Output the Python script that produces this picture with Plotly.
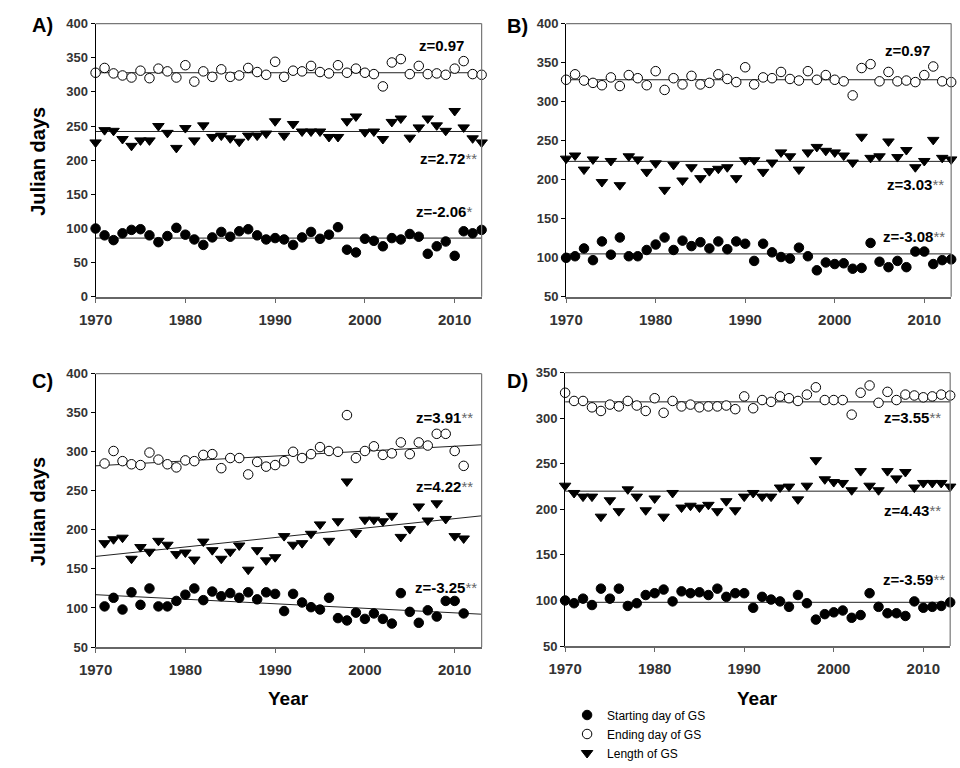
import plotly.graph_objects as go

W, H = 960, 768
FONT = "Liberation Sans, Arial, sans-serif"

years = list(range(1970, 2014))
years_c = list(range(1971, 2012))

# Panel A
a_end = [328,335,327,324,321,331,320,334,330,321,339,315,330,322,333,322,324,335,329,325,
         344,322,331,330,338,329,327,339,328,334,328,326,308,343,348,326,338,326,327,325,
         334,345,326,325]
a_len = [226,244,243,231,221,229,229,250,240,218,247,229,251,234,236,232,227,236,236,239,
         257,236,253,242,242,242,234,234,257,264,241,242,231,256,261,233,248,261,251,243,
         272,248,232,226]
a_start = [100,90,83,93,98,99,90,80,89,101,91,84,76,87,95,88,96,99,90,84,
           86,84,76,87,95,85,91,102,69,65,85,82,74,86,84,92,88,63,74,81,
           60,96,93,98]
a_trend_end = [328, 328]
a_trend_len = [242, 242]
a_trend_start = [86, 86]

# Panel B
b_end = a_end
b_len = [227,231,213,226,197,224,193,230,226,210,221,187,219,199,216,202,211,214,216,202,
         225,225,210,222,235,230,213,235,242,237,235,231,222,255,228,230,249,229,238,216,
         224,251,228,226]
b_start = [100,102,112,97,121,104,126,102,102,110,117,126,110,122,115,120,112,121,111,121,
           118,96,118,107,101,99,113,102,84,94,92,93,86,87,119,95,88,96,88,108,
           108,92,97,98]
b_trend_end = [328, 328]
b_trend_len = [223.5, 223.5]
b_trend_start = [105, 105]

# Panel C (1971-2011)
c_end = [285,301,288,284,283,299,290,284,280,289,288,296,297,279,292,292,271,287,281,283,
         288,300,292,297,306,301,300,347,292,301,307,296,298,312,297,312,308,323,323,301,282]
c_len = [183,188,190,163,178,172,186,181,169,171,162,185,174,163,172,180,149,174,161,165,
         192,181,183,195,207,186,211,262,196,213,213,211,218,191,201,230,212,234,214,192,189]
c_start = [102,113,98,120,104,125,102,102,109,117,125,110,121,115,119,113,120,111,120,118,
           96,118,107,101,98,113,87,84,94,86,93,86,80,119,95,81,97,89,109,109,93]
c_trend_end = [282, 309]
c_trend_len = [166, 218]
c_trend_start = [117, 92]

# Panel D
d_end = [328,319,319,312,308,315,313,319,314,308,322,306,319,313,315,312,313,313,314,310,
         324,311,320,318,324,322,319,326,334,320,320,320,304,328,336,317,329,320,326,325,
         323,324,326,325]
d_len = [226,218,214,214,192,210,198,222,214,199,212,192,218,202,204,202,205,198,209,199,
         214,218,214,214,224,225,211,226,254,233,230,229,221,242,226,221,242,234,241,224,
         229,229,229,225]
d_start = [100,97,102,95,113,102,113,94,97,106,108,112,99,110,108,109,106,113,104,108,
           108,92,104,101,99,93,106,97,79,85,87,89,81,84,108,93,86,86,83,99,
           92,93,94,98]
d_trend_end = [318, 318]
d_trend_len = [220, 220]
d_trend_start = [98, 98]

trend_x = [1970, 2013]

panels = [
    dict(name="A)", x=years, end=a_end, length=a_len, start=a_start,
         t_end=a_trend_end, t_len=a_trend_len, t_start=a_trend_start,
         yr=[0, 400], ytv=list(range(0, 401, 50)),
         dom_x=(80, 473), dom_y=(17, 298),
         z=[("z=0.97", "", 457, 40), ("z=2.72", "**", 470, 156), ("z=-2.06", "*", 465, 210)],
         lab=(13, 19), xtitle=False, ytitle=True),
    dict(name="B)", x=years, end=b_end, length=b_len, start=b_start,
         t_end=b_trend_end, t_len=b_trend_len, t_start=b_trend_start,
         yr=[50, 400], ytv=list(range(50, 401, 50)),
         dom_x=(559, 951), dom_y=(17, 298),
         z=[("z=0.97", "", 932, 45), ("z=3.03", "**", 946, 183), ("z=-3.08", "**", 947, 236)],
         lab=(497, 20), xtitle=False, ytitle=False),
    dict(name="C)", x=years_c, end=c_end, length=c_len, start=c_start,
         t_end=c_trend_end, t_len=c_trend_len, t_start=c_trend_start,
         yr=[50, 400], ytv=list(range(50, 401, 50)),
         dom_x=(80, 473), dom_y=(377, 658),
         z=[("z=3.91", "**", 466, 422), ("z=4.22", "**", 466, 493), ("z=-3.25", "**", 470, 597)],
         lab=(13, 385), xtitle=True, ytitle=True),
    dict(name="D)", x=years, end=d_end, length=d_len, start=d_start,
         t_end=d_trend_end, t_len=d_trend_len, t_start=d_trend_start,
         yr=[50, 350], ytv=list(range(50, 351, 50)),
         dom_x=(558, 950), dom_y=(376, 657),
         z=[("z=3.55", "**", 943, 422), ("z=4.43", "**", 943, 518), ("z=-3.59", "**", 947, 589)],
         lab=(497, 385), xtitle=True, ytitle=False),
]

fig = go.Figure()
annotations = []
shapes = []

for i, p in enumerate(panels):
    n = "" if i == 0 else str(i + 1)
    xa, ya = "x" + n, "y" + n
    # trend lines
    for ty in (p["t_end"], p["t_len"], p["t_start"]):
        fig.add_trace(go.Scatter(x=trend_x, y=ty, mode="lines", xaxis=xa, yaxis=ya,
                                 line=dict(color="#222222", width=1), showlegend=False,
                                 hoverinfo="skip", cliponaxis=False))
    fig.add_trace(go.Scatter(x=p["x"], y=p["start"], mode="markers", xaxis=xa, yaxis=ya,
                             name="Starting day of GS", showlegend=(i == 0),
                             marker=dict(symbol="circle", size=9.5, color="black",
                                         line=dict(color="black", width=1)),
                             cliponaxis=False))
    fig.add_trace(go.Scatter(x=p["x"], y=p["end"], mode="markers", xaxis=xa, yaxis=ya,
                             name="Ending day of GS", showlegend=(i == 0),
                             marker=dict(symbol="circle", size=9.5, color="white",
                                         line=dict(color="black", width=1)),
                             cliponaxis=False))
    fig.add_trace(go.Scatter(x=p["x"], y=p["length"], mode="markers", xaxis=xa, yaxis=ya,
                             name="Length of GS", showlegend=(i == 0),
                             marker=dict(symbol="triangle-down", size=10, color="black",
                                         line=dict(color="black", width=1)),
                             cliponaxis=False))

    x0, x1 = p["dom_x"]
    y0, y1 = p["dom_y"]
    xkey = "xaxis" + n
    ykey = "yaxis" + n
    fig.layout[xkey] = dict(domain=[x0 / W, x1 / W], range=[1970, 2013], anchor=ya,
                            tickvals=[1970, 1980, 1990, 2000, 2010],
                            ticks="outside", ticklen=4, tickcolor="#666666",
                            ticklabelstandoff=4,
                            showline=True, linecolor="#666666", linewidth=1.5,
                            mirror=False, showgrid=False, zeroline=False,
                            tickfont=dict(family=FONT, size=15, color="#333333", weight="bold"))
    fig.layout[ykey] = dict(domain=[1 - y1 / H, 1 - y0 / H], range=p["yr"], anchor=xa,
                            tickvals=p["ytv"], ticks="outside", ticklen=4, tickcolor="black",
                            showline=True, linecolor="black", linewidth=1,
                            showgrid=False, zeroline=False,
                            tickfont=dict(family=FONT, size=13, color="#333333", weight="bold"))
    # top and right frame lines
    shapes.append(dict(type="line", xref=xa + " domain", yref=ya + " domain",
                       x0=0, x1=1, y0=1, y1=1, line=dict(color="#777777", width=1.2)))
    shapes.append(dict(type="line", xref=xa + " domain", yref=ya + " domain",
                       x0=1, x1=1, y0=0, y1=1, line=dict(color="#777777", width=1.2)))

    # panel label
    annotations.append(dict(text="<b>" + p["name"] + "</b>", xref="paper", yref="paper",
                            x=p["lab"][0] / W, y=1 - p["lab"][1] / H, xanchor="left",
                            yanchor="middle", showarrow=False,
                            font=dict(family=FONT, size=20, color="black")))
    for txt, star, xr, yc in p["z"]:
        s = "<b>" + txt + "</b>"
        if star:
            s += "<span style='color:#666666'>" + star + "</span>"
        annotations.append(dict(text=s, xref="paper", yref="paper", x=xr / W, y=1 - yc / H,
                                xanchor="right", yanchor="middle", showarrow=False,
                                font=dict(family=FONT, size=15, color="black")))
    if p["ytitle"]:
        cy = (y0 + y1) / 2
        annotations.append(dict(text="<b>Julian days</b>", xref="paper", yref="paper",
                                x=22 / W, y=1 - (cy + 1) / H, xanchor="center", yanchor="middle",
                                textangle=-90, showarrow=False,
                                font=dict(family=FONT, size=20, color="black")))
    if p["xtitle"]:
        annotations.append(dict(text="<b>Year</b>", xref="paper", yref="paper",
                                x=((x0 + x1) / 2) / W, y=1 - 711 / H,
                                xanchor="center", yanchor="middle", showarrow=False,
                                font=dict(family=FONT, size=19, color="black")))

fig.update_layout(
    width=W, height=H,
    margin=dict(l=0, r=0, t=0, b=0),
    paper_bgcolor="white", plot_bgcolor="white",
    annotations=annotations, shapes=shapes,
    showlegend=True,
    legend=dict(x=560 / W, y=1 - 713 / H, xanchor="left", yanchor="top",
                bgcolor="rgba(0,0,0,0)", font=dict(family=FONT, size=12, color="black"),
                itemsizing="trace", tracegroupgap=0),
)

fig.write_html("out.html")
